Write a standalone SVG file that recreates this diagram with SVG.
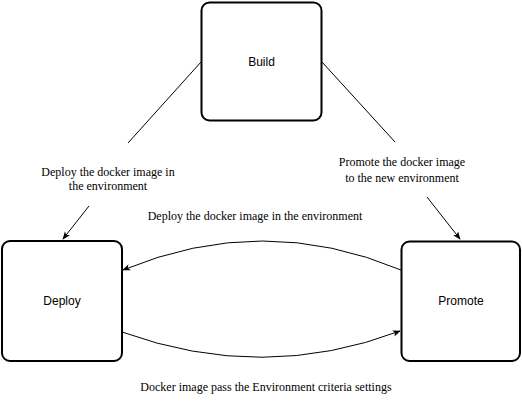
<svg xmlns="http://www.w3.org/2000/svg" width="522" height="404" viewBox="0 0 522 404">
<style>
.box{fill:#fff;stroke:#000;stroke-width:2}
.nt{font-family:"Liberation Sans",Arial,sans-serif;font-size:12px;text-anchor:middle;fill:#000}
.lt{font-family:"Liberation Serif","Times New Roman",serif;font-size:12px;text-anchor:middle;fill:#000}
.ln{fill:none;stroke:#000;stroke-width:1}
</style>
<defs>
<marker id="ah" viewBox="0 0 10 10" refX="9" refY="5" markerWidth="8" markerHeight="8" orient="auto" markerUnits="userSpaceOnUse">
<path d="M0,1 L10,5 L0,9 L2.5,5 Z" fill="#000"/>
</marker>
</defs>
<rect width="522" height="404" fill="#fff"/>
<g id="connectors">
<line class="ln" x1="201" y1="62" x2="128" y2="143"/>
<line class="ln" x1="89" y1="206" x2="63" y2="239" marker-end="url(#ah)"/>
<line class="ln" x1="322" y1="62" x2="395" y2="142"/>
<line class="ln" x1="427" y1="197" x2="460" y2="239" marker-end="url(#ah)"/>
<path class="ln" d="M401,270 Q263,212 123,270" marker-end="url(#ah)"/>
<path class="ln" d="M122,332 Q263,383 400,331" marker-end="url(#ah)"/>
<text class="lt" x="108" y="176">Deploy the docker image in</text>
<text class="lt" x="108" y="190">the environment</text>
<text class="lt" x="402" y="166">Promote the docker image</text>
<text class="lt" x="402" y="182">to the new environment</text>
<text class="lt" x="255" y="220">Deploy the docker image in the environment</text>
<text class="lt" x="266" y="391">Docker image pass the Environment criteria settings</text>
</g>
<g id="build">
<rect class="box" x="201.5" y="2.5" width="120" height="118" rx="8"/>
<text class="nt" x="261.5" y="66">Build</text>
</g>
<g id="deploy">
<rect class="box" x="2" y="241" width="120" height="120" rx="8"/>
<text class="nt" x="62" y="305">Deploy</text>
</g>
<g id="promote">
<rect class="box" x="401.5" y="241.5" width="118.5" height="119.5" rx="8"/>
<text class="nt" x="461" y="305">Promote</text>
</g>
</svg>
